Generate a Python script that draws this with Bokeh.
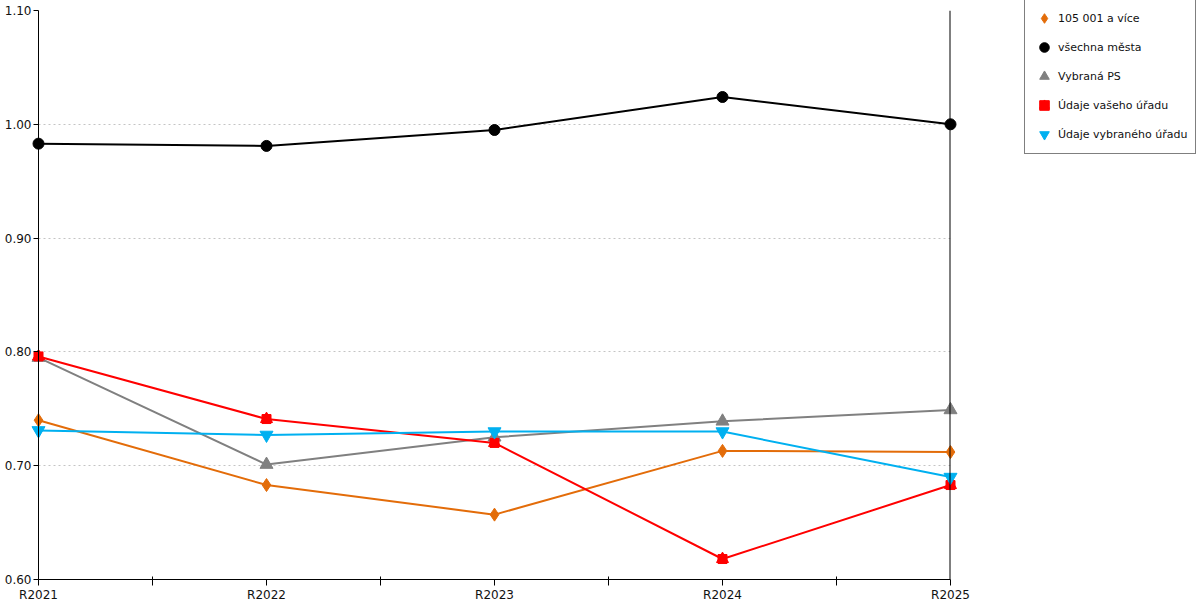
from bokeh.plotting import figure
from bokeh.models import Range1d, FixedTicker, Span, Legend, LegendItem
from bokeh.embed import file_html
from bokeh.resources import INLINE

# ---- data ----
categories = ["R2021", "R2022", "R2023", "R2024", "R2025"]
y_ticks = [0.60, 0.70, 0.80, 0.90, 1.00, 1.10]
y_tick_labels = ["0.60", "0.70", "0.80", "0.90", "1.00", "1.10"]

series_names = ["105 001 a více", "všechna města", "Vybraná PS",
                "Údaje vašeho úřadu", "Údaje vybraného úřadu"]
s_105 = [0.740, 0.683, 0.657, 0.713, 0.712]
s_all = [0.983, 0.981, 0.995, 1.024, 1.000]
s_ps = [0.795, 0.701, 0.725, 0.739, 0.749]
s_your = [0.796, 0.741, 0.720, 0.618, 0.683]
s_sel = [0.731, 0.727, 0.730, 0.730, 0.690]

xs = list(range(len(categories)))
FONT = "DejaVu Sans"
FRAME_W = 912

p = figure(frame_width=FRAME_W, frame_height=569,
           x_range=Range1d(xs[0], xs[-1]), y_range=Range1d(y_ticks[0], y_ticks[-1]),
           output_backend="svg", toolbar_location=None,
           min_border_left=38, min_border_top=10, min_border_right=242,
           min_border_bottom=0)
p.outline_line_color = None
p.background_fill_color = "white"
p.border_fill_color = "white"

# axes
xa = p.xaxis[0]
xa.ticker = FixedTicker(ticks=xs, minor_ticks=[x + 0.5 for x in xs[:-1]])
xa.major_label_overrides = {x: c for x, c in zip(xs, categories)}
xa.axis_line_color = "black"
xa.major_tick_line_color = "black"
xa.minor_tick_line_color = "black"
xa.major_tick_out = 6
xa.major_tick_in = 0
xa.minor_tick_out = 6
xa.minor_tick_in = 3
xa.major_label_standoff = 2
xa.major_label_text_font = FONT
xa.major_label_text_font_size = "12px"
xa.major_label_text_color = "#111111"

ya = p.yaxis[0]
ya.ticker = FixedTicker(ticks=y_ticks, minor_ticks=[])
ya.major_label_overrides = {t: l for t, l in zip(y_ticks, y_tick_labels)}
ya.axis_line_color = "black"
ya.major_tick_line_color = "black"
ya.major_tick_out = 5
ya.major_tick_in = 0
ya.major_label_standoff = 2
ya.major_label_text_font = FONT
ya.major_label_text_font_size = "12px"
ya.major_label_text_color = "#111111"

# right-hand border line at the last category
p.add_layout(Span(location=xs[-1], dimension="height",
                  line_color="black", line_width=2))

p.xgrid.visible = False
p.ygrid.grid_line_color = "#c4c4c4"
p.ygrid.grid_line_dash = "2 3"
p.ygrid.grid_line_width = 1

# series
c_105, c_all, c_ps, c_your, c_sel = "#E36C09", "#000000", "#808080", "#FF0000", "#00B0F0"
LV = "guide"  # markers not clipped at the frame edges

p.line(xs, s_105, line_color=c_105, line_width=2)
p.line(xs, s_all, line_color=c_all, line_width=2)
p.line(xs, s_ps, line_color=c_ps, line_width=2)
p.line(xs, s_your, line_color=c_your, line_width=2)
p.line(xs, s_sel, line_color=c_sel, line_width=2)

r105 = p.scatter(xs, s_105, marker="diamond", size=13, fill_color=c_105, line_color=c_105, level=LV)
rall = p.scatter(xs, s_all, marker="circle", size=11, fill_color=c_all, line_color=c_all, level=LV)
rps = p.scatter(xs, s_ps, marker="triangle", size=13, fill_color=c_ps, line_color=c_ps, level=LV)
ryour_a = p.scatter(xs, s_your, marker="square", size=9, fill_color=c_your, line_color=c_your, level=LV)
ryour_b = p.scatter(xs, s_your, marker="triangle", size=12, fill_color=c_your, line_color=c_your, level=LV)
rsel = p.scatter(xs, s_sel, marker="inverted_triangle", size=13, fill_color=c_sel, line_color=c_sel, level=LV)

legend = Legend(items=[
    LegendItem(label=series_names[0], renderers=[r105]),
    LegendItem(label=series_names[1], renderers=[rall]),
    LegendItem(label=series_names[2], renderers=[rps]),
    LegendItem(label=series_names[3], renderers=[ryour_a, ryour_b]),
    LegendItem(label=series_names[4], renderers=[rsel]),
], location=(74, 425))
legend.border_line_color = "black"
legend.border_line_width = 1
legend.background_fill_color = "white"
legend.background_fill_alpha = 1
legend.label_text_font = FONT
legend.label_text_font_size = "11px"
legend.label_text_color = "#111111"
legend.glyph_width = 24
legend.glyph_height = 24
legend.label_height = 24
legend.spacing = 5
legend.padding = 7
legend.margin = 0
legend.label_standoff = 2
p.add_layout(legend, "right")

open("out.html", "w").write(file_html(p, INLINE))
